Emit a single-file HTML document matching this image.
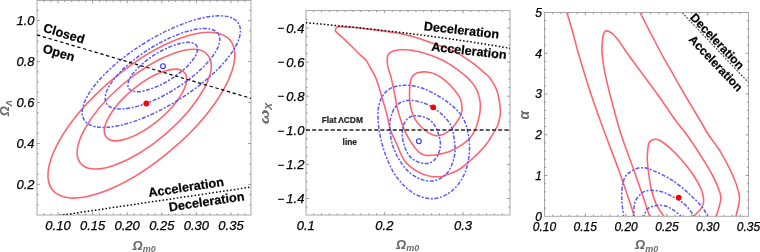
<!DOCTYPE html>
<html><head><meta charset="utf-8"><style>
html,body{margin:0;padding:0;background:#fff;width:760px;height:252px;overflow:hidden}
svg{display:block;filter:blur(0.3px)}
text{font-family:"Liberation Sans", sans-serif}
</style></head><body>
<svg width="760" height="252" viewBox="0 0 760 252">
<rect width="760" height="252" fill="#fff"/>
<rect x="37" y="0.5" width="214" height="214.5" fill="none" stroke="#a8a8a8" stroke-width="1"/>
<path d="M44.2,215v-1.6M44.2,0.5v1.6M51.1,215v-1.6M51.1,0.5v1.6M58,215v-2.8M58,0.5v2.8M64.9,215v-1.6M64.9,0.5v1.6M71.8,215v-1.6M71.8,0.5v1.6M78.8,215v-1.6M78.8,0.5v1.6M85.7,215v-1.6M85.7,0.5v1.6M92.6,215v-2.8M92.6,0.5v2.8M99.5,215v-1.6M99.5,0.5v1.6M106.4,215v-1.6M106.4,0.5v1.6M113.4,215v-1.6M113.4,0.5v1.6M120.3,215v-1.6M120.3,0.5v1.6M127.2,215v-2.8M127.2,0.5v2.8M134.1,215v-1.6M134.1,0.5v1.6M141,215v-1.6M141,0.5v1.6M148,215v-1.6M148,0.5v1.6M154.9,215v-1.6M154.9,0.5v1.6M161.8,215v-2.8M161.8,0.5v2.8M168.7,215v-1.6M168.7,0.5v1.6M175.6,215v-1.6M175.6,0.5v1.6M182.6,215v-1.6M182.6,0.5v1.6M189.5,215v-1.6M189.5,0.5v1.6M196.4,215v-2.8M196.4,0.5v2.8M203.3,215v-1.6M203.3,0.5v1.6M210.2,215v-1.6M210.2,0.5v1.6M217.2,215v-1.6M217.2,0.5v1.6M224.1,215v-1.6M224.1,0.5v1.6M231,215v-2.8M231,0.5v2.8M237.9,215v-1.6M237.9,0.5v1.6M244.8,215v-1.6M244.8,0.5v1.6M37,204.9h1.6M251,204.9h-1.6M37,194.7h1.6M251,194.7h-1.6M37,184.4h2.8M251,184.4h-2.8M37,174.2h1.6M251,174.2h-1.6M37,164h1.6M251,164h-1.6M37,153.7h1.6M251,153.7h-1.6M37,143.5h2.8M251,143.5h-2.8M37,133.2h1.6M251,133.2h-1.6M37,123h1.6M251,123h-1.6M37,112.8h1.6M251,112.8h-1.6M37,102.5h2.8M251,102.5h-2.8M37,92.3h1.6M251,92.3h-1.6M37,82h1.6M251,82h-1.6M37,71.8h1.6M251,71.8h-1.6M37,61.6h2.8M251,61.6h-2.8M37,51.3h1.6M251,51.3h-1.6M37,41.1h1.6M251,41.1h-1.6M37,30.8h1.6M251,30.8h-1.6M37,20.6h2.8M251,20.6h-2.8M37,10.4h1.6M251,10.4h-1.6" stroke="#8c8c8c" stroke-width="0.9" fill="none"/>
<text x="58" y="229.5" font-size="13" text-anchor="middle" font-style="italic" fill="#000" stroke="#000" stroke-width="0.25">0.10</text>
<text x="92.6" y="229.5" font-size="13" text-anchor="middle" font-style="italic" fill="#000" stroke="#000" stroke-width="0.25">0.15</text>
<text x="127.2" y="229.5" font-size="13" text-anchor="middle" font-style="italic" fill="#000" stroke="#000" stroke-width="0.25">0.20</text>
<text x="161.8" y="229.5" font-size="13" text-anchor="middle" font-style="italic" fill="#000" stroke="#000" stroke-width="0.25">0.25</text>
<text x="196.4" y="229.5" font-size="13" text-anchor="middle" font-style="italic" fill="#000" stroke="#000" stroke-width="0.25">0.30</text>
<text x="231" y="229.5" font-size="13" text-anchor="middle" font-style="italic" fill="#000" stroke="#000" stroke-width="0.25">0.35</text>
<text x="34.5" y="25.3" font-size="13" text-anchor="end" font-style="italic" fill="#000" stroke="#000" stroke-width="0.25">1.0</text>
<text x="34.5" y="66.3" font-size="13" text-anchor="end" font-style="italic" fill="#000" stroke="#000" stroke-width="0.25">0.8</text>
<text x="34.5" y="107.2" font-size="13" text-anchor="end" font-style="italic" fill="#000" stroke="#000" stroke-width="0.25">0.6</text>
<text x="34.5" y="148.2" font-size="13" text-anchor="end" font-style="italic" fill="#000" stroke="#000" stroke-width="0.25">0.4</text>
<text x="34.5" y="189.1" font-size="13" text-anchor="end" font-style="italic" fill="#000" stroke="#000" stroke-width="0.25">0.2</text>
<rect x="306" y="10.5" width="204" height="204.5" fill="none" stroke="#a8a8a8" stroke-width="1"/>
<path d="M313.7,215v-1.6M313.7,10.5v1.6M321.5,215v-1.6M321.5,10.5v1.6M329.4,215v-1.6M329.4,10.5v1.6M337.2,215v-1.6M337.2,10.5v1.6M345.1,215v-1.6M345.1,10.5v1.6M353,215v-1.6M353,10.5v1.6M360.8,215v-1.6M360.8,10.5v1.6M368.7,215v-1.6M368.7,10.5v1.6M376.5,215v-1.6M376.5,10.5v1.6M384.4,215v-2.8M384.4,10.5v2.8M392.3,215v-1.6M392.3,10.5v1.6M400.1,215v-1.6M400.1,10.5v1.6M408,215v-1.6M408,10.5v1.6M415.8,215v-1.6M415.8,10.5v1.6M423.7,215v-1.6M423.7,10.5v1.6M431.6,215v-1.6M431.6,10.5v1.6M439.4,215v-1.6M439.4,10.5v1.6M447.3,215v-1.6M447.3,10.5v1.6M455.1,215v-1.6M455.1,10.5v1.6M463,215v-2.8M463,10.5v2.8M470.9,215v-1.6M470.9,10.5v1.6M478.7,215v-1.6M478.7,10.5v1.6M486.6,215v-1.6M486.6,10.5v1.6M494.4,215v-1.6M494.4,10.5v1.6M502.3,215v-1.6M502.3,10.5v1.6M306,207h1.6M510,207h-1.6M306,198.5h2.8M510,198.5h-2.8M306,190h1.6M510,190h-1.6M306,181.4h1.6M510,181.4h-1.6M306,172.9h1.6M510,172.9h-1.6M306,164.4h2.8M510,164.4h-2.8M306,155.9h1.6M510,155.9h-1.6M306,147.3h1.6M510,147.3h-1.6M306,138.8h1.6M510,138.8h-1.6M306,130.3h2.8M510,130.3h-2.8M306,121.8h1.6M510,121.8h-1.6M306,113.2h1.6M510,113.2h-1.6M306,104.7h1.6M510,104.7h-1.6M306,96.2h2.8M510,96.2h-2.8M306,87.6h1.6M510,87.6h-1.6M306,79.1h1.6M510,79.1h-1.6M306,70.6h1.6M510,70.6h-1.6M306,62.1h2.8M510,62.1h-2.8M306,53.5h1.6M510,53.5h-1.6M306,45h1.6M510,45h-1.6M306,36.5h1.6M510,36.5h-1.6M306,27.9h2.8M510,27.9h-2.8M306,19.4h1.6M510,19.4h-1.6" stroke="#8c8c8c" stroke-width="0.9" fill="none"/>
<text x="305.8" y="229.5" font-size="13" text-anchor="middle" font-style="italic" fill="#000" stroke="#000" stroke-width="0.25">0.1</text>
<text x="384.4" y="229.5" font-size="13" text-anchor="middle" font-style="italic" fill="#000" stroke="#000" stroke-width="0.25">0.2</text>
<text x="463" y="229.5" font-size="13" text-anchor="middle" font-style="italic" fill="#000" stroke="#000" stroke-width="0.25">0.3</text>
<text x="304.4" y="32.6" font-size="13" text-anchor="end" font-style="italic" fill="#000" stroke="#000" stroke-width="0.25"><tspan font-size="11.5" dy="-0.5">−</tspan><tspan dx="2.4" dy="0.5">0.4</tspan></text>
<text x="304.4" y="66.8" font-size="13" text-anchor="end" font-style="italic" fill="#000" stroke="#000" stroke-width="0.25"><tspan font-size="11.5" dy="-0.5">−</tspan><tspan dx="2.4" dy="0.5">0.6</tspan></text>
<text x="304.4" y="100.9" font-size="13" text-anchor="end" font-style="italic" fill="#000" stroke="#000" stroke-width="0.25"><tspan font-size="11.5" dy="-0.5">−</tspan><tspan dx="2.4" dy="0.5">0.8</tspan></text>
<text x="304.4" y="135" font-size="13" text-anchor="end" font-style="italic" fill="#000" stroke="#000" stroke-width="0.25"><tspan font-size="11.5" dy="-0.5">−</tspan><tspan dx="2.4" dy="0.5">1.0</tspan></text>
<text x="304.4" y="169.1" font-size="13" text-anchor="end" font-style="italic" fill="#000" stroke="#000" stroke-width="0.25"><tspan font-size="11.5" dy="-0.5">−</tspan><tspan dx="2.4" dy="0.5">1.2</tspan></text>
<text x="304.4" y="203.2" font-size="13" text-anchor="end" font-style="italic" fill="#000" stroke="#000" stroke-width="0.25"><tspan font-size="11.5" dy="-0.5">−</tspan><tspan dx="2.4" dy="0.5">1.4</tspan></text>
<rect x="544.5" y="12.5" width="204" height="203.8" fill="none" stroke="#a8a8a8" stroke-width="1"/>
<path d="M552.7,216.3v-1.6M552.7,12.5v1.6M560.8,216.3v-1.6M560.8,12.5v1.6M569,216.3v-1.6M569,12.5v1.6M577.1,216.3v-1.6M577.1,12.5v1.6M585.3,216.3v-2.8M585.3,12.5v2.8M593.5,216.3v-1.6M593.5,12.5v1.6M601.6,216.3v-1.6M601.6,12.5v1.6M609.8,216.3v-1.6M609.8,12.5v1.6M617.9,216.3v-1.6M617.9,12.5v1.6M626.1,216.3v-2.8M626.1,12.5v2.8M634.3,216.3v-1.6M634.3,12.5v1.6M642.4,216.3v-1.6M642.4,12.5v1.6M650.6,216.3v-1.6M650.6,12.5v1.6M658.7,216.3v-1.6M658.7,12.5v1.6M666.9,216.3v-2.8M666.9,12.5v2.8M675.1,216.3v-1.6M675.1,12.5v1.6M683.2,216.3v-1.6M683.2,12.5v1.6M691.4,216.3v-1.6M691.4,12.5v1.6M699.5,216.3v-1.6M699.5,12.5v1.6M707.7,216.3v-2.8M707.7,12.5v2.8M715.9,216.3v-1.6M715.9,12.5v1.6M724,216.3v-1.6M724,12.5v1.6M732.2,216.3v-1.6M732.2,12.5v1.6M740.3,216.3v-1.6M740.3,12.5v1.6M544.5,208.1h1.6M748.5,208.1h-1.6M544.5,200h1.6M748.5,200h-1.6M544.5,191.8h1.6M748.5,191.8h-1.6M544.5,183.7h1.6M748.5,183.7h-1.6M544.5,175.5h2.8M748.5,175.5h-2.8M544.5,167.4h1.6M748.5,167.4h-1.6M544.5,159.2h1.6M748.5,159.2h-1.6M544.5,151.1h1.6M748.5,151.1h-1.6M544.5,142.9h1.6M748.5,142.9h-1.6M544.5,134.8h2.8M748.5,134.8h-2.8M544.5,126.6h1.6M748.5,126.6h-1.6M544.5,118.5h1.6M748.5,118.5h-1.6M544.5,110.3h1.6M748.5,110.3h-1.6M544.5,102.2h1.6M748.5,102.2h-1.6M544.5,94h2.8M748.5,94h-2.8M544.5,85.9h1.6M748.5,85.9h-1.6M544.5,77.7h1.6M748.5,77.7h-1.6M544.5,69.6h1.6M748.5,69.6h-1.6M544.5,61.4h1.6M748.5,61.4h-1.6M544.5,53.3h2.8M748.5,53.3h-2.8M544.5,45.1h1.6M748.5,45.1h-1.6M544.5,37h1.6M748.5,37h-1.6M544.5,28.8h1.6M748.5,28.8h-1.6M544.5,20.7h1.6M748.5,20.7h-1.6" stroke="#8c8c8c" stroke-width="0.9" fill="none"/>
<text x="544.5" y="230.8" font-size="12" text-anchor="middle" font-style="italic" fill="#000" stroke="#000" stroke-width="0.25">0.10</text>
<text x="585.3" y="230.8" font-size="12" text-anchor="middle" font-style="italic" fill="#000" stroke="#000" stroke-width="0.25">0.15</text>
<text x="626.1" y="230.8" font-size="12" text-anchor="middle" font-style="italic" fill="#000" stroke="#000" stroke-width="0.25">0.20</text>
<text x="666.9" y="230.8" font-size="12" text-anchor="middle" font-style="italic" fill="#000" stroke="#000" stroke-width="0.25">0.25</text>
<text x="707.7" y="230.8" font-size="12" text-anchor="middle" font-style="italic" fill="#000" stroke="#000" stroke-width="0.25">0.30</text>
<text x="748.5" y="230.8" font-size="12" text-anchor="middle" font-style="italic" fill="#000" stroke="#000" stroke-width="0.25">0.35</text>
<text x="542" y="220.6" font-size="12" text-anchor="end" font-style="italic" fill="#000" stroke="#000" stroke-width="0.25">0</text>
<text x="542" y="179.8" font-size="12" text-anchor="end" font-style="italic" fill="#000" stroke="#000" stroke-width="0.25">1</text>
<text x="542" y="139.1" font-size="12" text-anchor="end" font-style="italic" fill="#000" stroke="#000" stroke-width="0.25">2</text>
<text x="542" y="98.3" font-size="12" text-anchor="end" font-style="italic" fill="#000" stroke="#000" stroke-width="0.25">3</text>
<text x="542" y="57.6" font-size="12" text-anchor="end" font-style="italic" fill="#000" stroke="#000" stroke-width="0.25">4</text>
<text x="542" y="16.8" font-size="12" text-anchor="end" font-style="italic" fill="#000" stroke="#000" stroke-width="0.25">5</text>
<defs><clipPath id="c1"><rect x="37" y="0.5" width="214" height="214.5"/></clipPath><clipPath id="c2"><rect x="306" y="10.5" width="204" height="204.5"/></clipPath><clipPath id="c3"><rect x="544.5" y="13" width="204" height="203"/></clipPath></defs>
<ellipse cx="145.5" cy="105.0" rx="20.0" ry="50.7" transform="rotate(-129.6 145.5 105.0)" fill="none" stroke="#ff6470" stroke-width="1.6"/>
<ellipse cx="144.2" cy="109.2" rx="83.5" ry="32.8" transform="rotate(-40.5 144.2 109.2)" fill="none" stroke="#ff6470" stroke-width="1.6"/>
<ellipse cx="141.4" cy="115.2" rx="116.2" ry="45.9" transform="rotate(-40.3 141.4 115.2)" fill="none" stroke="#ff6470" stroke-width="1.6"/>
<ellipse cx="162.7" cy="67.0" rx="40.1" ry="14.6" transform="rotate(-32.1 162.7 67.0)" fill="none" stroke="#5858ff" stroke-width="1.5" stroke-dasharray="2 1.6 4 1.6"/>
<ellipse cx="162.5" cy="68.8" rx="65.9" ry="23.8" transform="rotate(-31.9 162.5 68.8)" fill="none" stroke="#5858ff" stroke-width="1.5" stroke-dasharray="2 1.6 4 1.6"/>
<ellipse cx="161.3" cy="71.6" rx="33.1" ry="91.0" transform="rotate(-122.0 161.3 71.6)" fill="none" stroke="#5858ff" stroke-width="1.5" stroke-dasharray="2 1.6 4 1.6"/>
<line x1="37" y1="34.9" x2="251" y2="98.3" stroke="#000" stroke-width="1.2" stroke-dasharray="3.4 2.6"/>
<line x1="45" y1="217.6" x2="251" y2="187.1" stroke="#000" stroke-width="1.5" stroke-dasharray="1.5 2.1" clip-path="url(#c1)"/>
<circle cx="146.3" cy="103.5" r="2.9" fill="#f00"/>
<circle cx="163" cy="66.2" r="2.4" fill="none" stroke="#3333ff" stroke-width="1.1"/>
<text x="42.5" y="31.6" font-size="12.7" text-anchor="start" font-weight="bold" fill="#000" stroke="#000" stroke-width="0.2" transform="rotate(16.5 42.5 31.6)">Closed</text>
<text x="42" y="52.2" font-size="12.7" text-anchor="start" font-weight="bold" fill="#000" stroke="#000" stroke-width="0.2" transform="rotate(16.5 42 52.2)">Open</text>
<text x="149" y="197.1" font-size="12.7" text-anchor="start" font-weight="bold" fill="#000" stroke="#000" stroke-width="0.2" transform="rotate(-8.5 149 197.1)">Acceleration</text>
<text x="169.5" y="211.5" font-size="12.7" text-anchor="start" font-weight="bold" fill="#000" stroke="#000" stroke-width="0.2" transform="rotate(-8.5 169.5 211.5)">Deceleration</text>
<path d="M423.8,71.9 L424.7,71.9 L425.6,71.9 L426.5,72.0 L427.4,72.1 L428.4,72.2 L429.3,72.3 L430.1,72.5 L431.0,72.7 L431.9,73.0 L432.8,73.2 L433.6,73.6 L434.5,73.9 L435.3,74.3 L436.2,74.6 L437.0,75.1 L437.8,75.5 L438.6,75.9 L439.4,76.4 L440.1,76.9 L440.9,77.4 L441.7,77.9 L442.4,78.4 L443.1,79.0 L443.9,79.5 L444.6,80.1 L445.3,80.7 L446.0,81.3 L446.7,81.9 L447.4,82.5 L448.0,83.1 L448.7,83.7 L449.4,84.4 L450.0,85.0 L450.7,85.7 L451.3,86.3 L451.9,87.0 L452.5,87.7 L453.1,88.4 L453.7,89.1 L454.3,89.8 L454.9,90.5 L455.4,91.2 L456.0,92.0 L456.5,92.7 L457.1,93.4 L457.6,94.2 L458.1,94.9 L458.6,95.7 L459.1,96.5 L459.6,97.2 L460.0,98.0 L460.4,98.9 L460.7,99.7 L461.0,100.6 L461.2,101.5 L461.4,102.3 L461.6,103.2 L461.7,104.1 L461.8,105.1 L461.9,106.0 L461.9,106.9 L462.0,107.8 L462.0,108.7 L462.0,109.6 L461.9,110.5 L461.8,111.4 L461.6,112.3 L461.4,113.2 L461.2,114.1 L460.8,114.9 L460.5,115.7 L460.1,116.6 L459.7,117.4 L459.2,118.2 L458.7,118.9 L458.2,119.7 L457.7,120.5 L457.2,121.2 L456.7,122.0 L456.2,122.8 L455.7,123.5 L455.2,124.3 L454.7,125.0 L454.1,125.8 L453.6,126.5 L453.0,127.2 L452.4,127.9 L451.8,128.5 L451.1,129.2 L450.4,129.8 L449.7,130.3 L449.0,130.9 L448.2,131.4 L447.5,132.0 L446.7,132.5 L445.9,132.9 L445.1,133.4 L444.3,133.8 L443.5,134.2 L442.7,134.5 L441.8,134.8 L440.9,135.1 L440.1,135.4 L439.2,135.5 L438.3,135.7 L437.4,135.7 L436.5,135.7 L435.6,135.6 L434.7,135.4 L433.9,135.2 L433.0,134.9 L432.2,134.6 L431.4,134.2 L430.6,133.8 L429.8,133.3 L429.0,132.9 L428.2,132.4 L427.4,131.9 L426.7,131.3 L426.0,130.8 L425.2,130.2 L424.5,129.7 L423.8,129.1 L423.1,128.5 L422.4,127.9 L421.7,127.3 L421.1,126.6 L420.4,126.0 L419.8,125.3 L419.2,124.7 L418.6,124.0 L418.0,123.3 L417.4,122.6 L416.9,121.8 L416.3,121.1 L415.8,120.3 L415.4,119.5 L414.9,118.8 L414.5,118.0 L414.1,117.1 L413.7,116.3 L413.3,115.5 L413.0,114.6 L412.7,113.8 L412.3,112.9 L412.0,112.0 L411.8,111.2 L411.5,110.3 L411.2,109.4 L411.0,108.5 L410.8,107.6 L410.6,106.7 L410.4,105.8 L410.3,104.9 L410.1,104.0 L410.0,103.1 L409.9,102.2 L409.8,101.3 L409.8,100.4 L409.7,99.5 L409.6,98.6 L409.6,97.6 L409.6,96.7 L409.5,95.8 L409.5,94.9 L409.5,94.0 L409.5,93.1 L409.5,92.2 L409.6,91.2 L409.6,90.3 L409.6,89.4 L409.7,88.5 L409.8,87.6 L409.8,86.7 L409.9,85.7 L410.0,84.8 L410.1,83.9 L410.2,83.0 L410.3,82.1 L410.5,81.2 L410.7,80.3 L411.0,79.5 L411.3,78.6 L411.6,77.8 L412.0,77.0 L412.5,76.2 L413.0,75.5 L413.6,74.9 L414.3,74.4 L415.1,73.9 L415.8,73.5 L416.7,73.1 L417.5,72.8 L418.4,72.6 L419.3,72.4 L420.2,72.2 L421.1,72.1 L422.0,72.0 L422.9,71.9Z" fill="none" stroke="#ff6470" stroke-width="1.6" stroke-linejoin="round"/>
<path d="M389.4,53.1 L390.6,52.3 L392.0,51.7 L393.4,51.1 L394.9,50.7 L396.5,50.3 L398.0,50.0 L399.6,49.8 L401.2,49.7 L402.7,49.6 L404.3,49.7 L405.9,49.7 L407.5,49.8 L409.0,50.0 L410.6,50.2 L412.2,50.4 L413.7,50.7 L415.3,51.0 L416.8,51.3 L418.4,51.6 L419.9,52.0 L421.4,52.4 L423.0,52.8 L424.5,53.3 L426.0,53.7 L427.5,54.2 L429.0,54.7 L430.5,55.3 L432.0,55.8 L433.5,56.3 L434.9,56.9 L436.4,57.5 L437.9,58.1 L439.3,58.7 L440.8,59.4 L442.2,60.0 L443.6,60.7 L445.0,61.5 L446.4,62.3 L447.7,63.1 L449.1,63.9 L450.4,64.8 L451.7,65.6 L453.0,66.5 L454.3,67.4 L455.6,68.3 L456.9,69.2 L458.2,70.2 L459.5,71.1 L460.7,72.1 L462.0,73.0 L463.2,74.0 L464.4,75.0 L465.6,76.1 L466.8,77.1 L467.9,78.2 L469.0,79.4 L470.1,80.5 L471.1,81.7 L472.2,82.9 L473.2,84.1 L474.1,85.4 L475.0,86.7 L475.8,88.1 L476.5,89.5 L477.1,90.9 L477.7,92.4 L478.2,93.9 L478.7,95.4 L479.1,96.9 L479.5,98.4 L479.8,100.0 L480.0,101.5 L480.2,103.1 L480.3,104.7 L480.4,106.2 L480.3,107.8 L480.2,109.4 L480.1,111.0 L479.9,112.5 L479.6,114.1 L479.3,115.6 L479.0,117.2 L478.6,118.7 L478.3,120.3 L477.9,121.8 L477.5,123.3 L477.0,124.8 L476.5,126.3 L475.9,127.8 L475.3,129.2 L474.6,130.7 L473.9,132.1 L473.1,133.5 L472.3,134.8 L471.4,136.1 L470.5,137.4 L469.5,138.5 L468.4,139.7 L467.2,140.7 L466.0,141.8 L464.7,142.7 L463.5,143.7 L462.2,144.6 L460.9,145.4 L459.5,146.3 L458.2,147.1 L456.8,147.9 L455.4,148.7 L454.0,149.4 L452.6,150.1 L451.2,150.7 L449.7,151.3 L448.2,151.9 L446.7,152.3 L445.2,152.8 L443.7,153.2 L442.1,153.6 L440.6,153.9 L439.0,154.2 L437.5,154.5 L435.9,154.7 L434.4,155.0 L432.8,155.2 L431.2,155.3 L429.6,155.4 L428.1,155.5 L426.5,155.4 L425.0,155.1 L423.5,154.7 L422.0,154.1 L420.7,153.3 L419.4,152.4 L418.2,151.4 L417.1,150.3 L416.1,149.1 L415.1,147.9 L414.1,146.6 L413.2,145.3 L412.3,144.0 L411.5,142.7 L410.6,141.4 L409.8,140.1 L408.9,138.7 L408.1,137.4 L407.3,136.0 L406.6,134.6 L405.9,133.2 L405.2,131.7 L404.6,130.3 L404.0,128.8 L403.4,127.4 L402.9,125.9 L402.3,124.4 L401.8,122.9 L401.3,121.4 L400.8,119.9 L400.3,118.4 L399.8,116.9 L399.3,115.4 L398.9,113.9 L398.4,112.4 L398.0,110.9 L397.5,109.3 L397.1,107.8 L396.8,106.3 L396.5,104.7 L396.2,103.2 L396.0,101.6 L395.8,100.0 L395.5,98.5 L395.2,96.9 L394.9,95.4 L394.6,93.8 L394.3,92.3 L394.0,90.7 L393.7,89.2 L393.4,87.6 L393.0,86.1 L392.7,84.5 L392.4,83.0 L392.0,81.4 L391.7,79.9 L391.3,78.4 L390.9,76.8 L390.5,75.3 L390.0,73.8 L389.5,72.3 L389.1,70.8 L388.6,69.3 L388.2,67.8 L387.8,66.2 L387.5,64.7 L387.3,63.1 L387.2,61.6 L387.2,60.0 L387.3,58.4 L387.4,56.9 L387.8,55.4 L388.4,54.2Z" fill="none" stroke="#ff6470" stroke-width="1.6" stroke-linejoin="round"/>
<path d="M335.3,30.9 L335.8,28.5 L337.3,26.6 L339.7,26.6 L342.2,26.8 L344.6,26.9 L347.1,27.0 L349.5,27.2 L352.0,27.3 L354.4,27.5 L356.9,27.7 L359.3,28.0 L361.7,28.2 L364.2,28.5 L366.6,28.8 L369.0,29.1 L371.5,29.5 L373.9,29.8 L376.4,30.1 L378.8,30.4 L381.2,30.8 L383.6,31.1 L386.1,31.5 L388.5,31.8 L390.9,32.1 L393.4,32.4 L395.8,32.8 L398.2,33.2 L400.6,33.6 L403.0,34.1 L405.4,34.7 L407.8,35.3 L410.2,35.9 L412.6,36.5 L414.9,37.2 L417.3,37.9 L419.6,38.6 L421.9,39.4 L424.2,40.3 L426.6,41.1 L428.9,41.9 L431.2,42.8 L433.5,43.6 L435.8,44.4 L438.1,45.2 L440.4,46.0 L442.8,46.8 L445.1,47.6 L447.4,48.5 L449.7,49.4 L451.9,50.3 L454.2,51.3 L456.3,52.4 L458.5,53.7 L460.6,54.9 L462.6,56.2 L464.7,57.6 L466.8,58.9 L468.8,60.3 L470.8,61.7 L472.8,63.1 L474.8,64.6 L476.7,66.1 L478.6,67.7 L480.4,69.3 L482.3,70.9 L484.1,72.6 L485.9,74.2 L487.9,75.7 L489.5,77.5 L490.9,79.5 L492.3,81.6 L493.6,83.6 L494.8,85.8 L495.8,88.0 L496.7,90.3 L497.5,92.6 L498.1,95.0 L498.6,97.4 L499.0,99.8 L499.5,102.2 L499.8,104.7 L500.1,107.1 L500.2,109.6 L500.4,112.0 L500.3,114.4 L499.9,116.9 L499.3,119.3 L498.8,121.6 L498.1,124.0 L497.2,126.3 L496.1,128.5 L494.9,130.6 L493.6,132.7 L492.4,134.8 L491.1,136.9 L489.8,139.0 L488.5,141.1 L487.1,143.1 L485.6,145.0 L484.0,146.9 L482.4,148.8 L480.7,150.6 L479.1,152.4 L477.3,154.1 L475.6,155.9 L473.8,157.5 L471.9,159.1 L470.0,160.6 L468.1,162.2 L466.3,163.9 L464.5,165.5 L462.6,167.0 L460.6,168.5 L458.5,169.8 L456.4,171.0 L454.1,172.0 L451.9,172.9 L449.6,173.8 L447.3,174.6 L444.9,175.5 L442.7,176.4 L440.3,176.7 L437.8,176.7 L435.4,176.7 L432.9,176.6 L430.5,176.3 L428.1,175.7 L425.7,175.0 L423.4,174.2 L421.1,173.3 L418.9,172.2 L416.8,171.1 L414.7,169.8 L412.6,168.4 L410.7,166.9 L408.8,165.4 L407.0,163.6 L405.4,161.8 L404.0,159.8 L402.7,157.7 L401.6,155.5 L400.6,153.3 L399.6,151.0 L398.7,148.8 L397.7,146.5 L396.8,144.2 L395.8,142.0 L394.8,139.7 L393.7,137.5 L392.7,135.3 L391.6,133.1 L390.8,130.8 L390.0,128.5 L389.4,126.1 L388.9,123.7 L388.4,121.3 L387.9,118.9 L387.4,116.5 L386.8,114.1 L386.1,111.7 L385.5,109.4 L384.8,107.0 L384.1,104.7 L383.4,102.3 L382.7,100.0 L382.0,97.6 L381.3,95.2 L380.7,92.9 L380.0,90.5 L379.3,88.2 L378.6,85.8 L377.8,83.5 L377.0,81.2 L376.1,78.9 L375.2,76.6 L374.1,74.4 L372.9,72.2 L371.7,70.1 L370.5,68.0 L369.4,65.8 L368.2,63.7 L366.9,61.6 L365.4,59.6 L363.6,57.9 L361.8,56.3 L359.9,54.7 L358.2,53.0 L356.4,51.3 L354.7,49.5 L353.0,47.8 L351.3,46.0 L349.5,44.3 L347.8,42.6 L346.0,40.9 L344.2,39.2 L342.4,37.5 L340.6,35.9 L338.7,34.3 L336.9,32.6Z" fill="none" stroke="#ff6470" stroke-width="1.6" stroke-linejoin="round"/>
<path d="M402.7,128.7 L402.9,128.0 L403.0,127.3 L403.2,126.7 L403.4,126.0 L403.6,125.3 L403.8,124.7 L404.1,124.1 L404.3,123.4 L404.6,122.8 L404.9,122.2 L405.3,121.6 L405.6,121.1 L406.0,120.5 L406.4,120.0 L406.8,119.5 L407.3,119.0 L407.8,118.5 L408.3,118.1 L408.8,117.7 L409.3,117.3 L409.9,117.0 L410.5,116.7 L411.1,116.5 L411.7,116.3 L412.3,116.1 L413.0,116.0 L413.6,115.9 L414.3,115.8 L415.0,115.8 L415.6,115.8 L416.3,115.8 L417.0,115.8 L417.7,115.9 L418.4,115.9 L419.0,116.0 L419.7,116.1 L420.4,116.2 L421.1,116.4 L421.8,116.5 L422.4,116.7 L423.1,116.8 L423.8,117.0 L424.4,117.2 L425.1,117.5 L425.7,117.7 L426.3,118.0 L427.0,118.3 L427.6,118.6 L428.2,118.9 L428.7,119.2 L429.3,119.6 L429.9,120.0 L430.4,120.4 L430.9,120.9 L431.4,121.3 L431.9,121.8 L432.4,122.3 L432.8,122.8 L433.2,123.3 L433.7,123.9 L434.1,124.4 L434.5,125.0 L434.8,125.6 L435.2,126.2 L435.5,126.8 L435.8,127.4 L436.1,128.0 L436.4,128.6 L436.7,129.3 L437.0,129.9 L437.2,130.5 L437.5,131.2 L437.7,131.8 L438.0,132.5 L438.2,133.2 L438.4,133.8 L438.6,134.5 L438.8,135.1 L439.0,135.8 L439.2,136.5 L439.4,137.1 L439.5,137.8 L439.7,138.5 L439.8,139.1 L440.0,139.8 L440.1,140.5 L440.2,141.2 L440.3,141.9 L440.3,142.5 L440.4,143.2 L440.4,143.9 L440.4,144.6 L440.3,145.3 L440.3,146.0 L440.2,146.7 L440.2,147.3 L440.1,148.0 L439.9,148.7 L439.8,149.4 L439.7,150.0 L439.5,150.7 L439.3,151.4 L439.1,152.0 L438.9,152.7 L438.6,153.3 L438.4,153.9 L438.1,154.6 L437.8,155.2 L437.4,155.8 L437.1,156.4 L436.7,157.0 L436.4,157.5 L436.0,158.1 L435.6,158.6 L435.1,159.1 L434.7,159.6 L434.2,160.1 L433.7,160.6 L433.2,161.0 L432.7,161.4 L432.1,161.8 L431.5,162.1 L431.0,162.5 L430.4,162.7 L429.8,163.0 L429.1,163.2 L428.5,163.4 L427.9,163.5 L427.2,163.6 L426.6,163.6 L425.9,163.7 L425.2,163.6 L424.6,163.6 L423.9,163.5 L423.2,163.4 L422.6,163.3 L421.9,163.1 L421.2,163.0 L420.6,162.8 L419.9,162.6 L419.2,162.4 L418.6,162.2 L417.9,161.9 L417.3,161.6 L416.7,161.4 L416.1,161.1 L415.5,160.8 L414.9,160.4 L414.3,160.1 L413.7,159.7 L413.1,159.3 L412.6,158.9 L412.1,158.5 L411.5,158.1 L411.0,157.6 L410.6,157.1 L410.1,156.6 L409.7,156.1 L409.2,155.5 L408.8,155.0 L408.4,154.4 L408.1,153.9 L407.7,153.3 L407.3,152.7 L407.0,152.1 L406.7,151.5 L406.4,150.9 L406.1,150.2 L405.8,149.6 L405.5,149.0 L405.2,148.3 L405.0,147.7 L404.7,147.0 L404.5,146.4 L404.3,145.7 L404.1,145.1 L403.9,144.4 L403.7,143.7 L403.5,143.1 L403.3,142.4 L403.2,141.7 L403.0,141.0 L402.9,140.4 L402.8,139.7 L402.7,139.0 L402.6,138.3 L402.5,137.6 L402.5,136.9 L402.4,136.2 L402.4,135.5 L402.3,134.8 L402.3,134.2 L402.3,133.5 L402.3,132.8 L402.4,132.1 L402.4,131.4 L402.5,130.7 L402.5,130.0 L402.6,129.3Z" fill="none" stroke="#5858ff" stroke-width="1.5" stroke-dasharray="2 1.6 4 1.6" stroke-linejoin="round"/>
<path d="M395.3,106.9 L396.0,106.1 L396.7,105.3 L397.6,104.5 L398.5,103.8 L399.4,103.1 L400.4,102.5 L401.4,102.0 L402.4,101.5 L403.5,101.2 L404.5,100.9 L405.7,100.6 L406.8,100.5 L407.9,100.4 L409.1,100.3 L410.2,100.3 L411.4,100.4 L412.5,100.5 L413.6,100.6 L414.8,100.8 L415.9,101.0 L417.1,101.3 L418.2,101.5 L419.3,101.8 L420.5,102.1 L421.6,102.4 L422.7,102.7 L423.8,103.1 L424.9,103.5 L426.0,103.9 L427.0,104.3 L428.1,104.8 L429.1,105.3 L430.2,105.8 L431.2,106.3 L432.2,106.9 L433.2,107.6 L434.1,108.2 L435.1,108.9 L436.0,109.6 L436.9,110.3 L437.8,111.0 L438.8,111.7 L439.7,112.4 L440.6,113.2 L441.4,113.9 L442.3,114.7 L443.2,115.5 L444.0,116.3 L444.8,117.1 L445.6,117.9 L446.4,118.8 L447.1,119.7 L447.8,120.6 L448.5,121.5 L449.2,122.5 L449.8,123.4 L450.3,124.4 L450.9,125.5 L451.3,126.5 L451.8,127.6 L452.2,128.7 L452.5,129.8 L452.8,130.9 L453.1,132.0 L453.3,133.1 L453.5,134.3 L453.7,135.4 L453.9,136.6 L454.0,137.7 L454.2,138.9 L454.3,140.0 L454.5,141.2 L454.6,142.3 L454.7,143.5 L454.8,144.7 L454.9,145.8 L455.0,147.0 L455.1,148.1 L455.1,149.3 L455.1,150.4 L455.0,151.6 L454.9,152.7 L454.8,153.9 L454.6,155.0 L454.4,156.2 L454.2,157.3 L453.9,158.4 L453.6,159.5 L453.3,160.7 L452.9,161.8 L452.5,162.9 L452.1,163.9 L451.7,165.0 L451.3,166.1 L450.8,167.1 L450.3,168.2 L449.7,169.2 L449.1,170.2 L448.5,171.1 L447.8,172.1 L447.1,173.0 L446.4,173.8 L445.6,174.7 L444.7,175.4 L443.8,176.2 L442.9,176.9 L442.0,177.5 L441.0,178.1 L440.0,178.7 L439.0,179.2 L437.9,179.6 L436.9,180.0 L435.8,180.4 L434.7,180.7 L433.5,180.9 L432.4,181.0 L431.3,181.1 L430.1,181.1 L429.0,181.1 L427.8,181.0 L426.7,180.9 L425.6,180.7 L424.5,180.4 L423.4,180.1 L422.3,179.7 L421.2,179.3 L420.1,178.9 L419.0,178.5 L418.0,178.0 L416.9,177.5 L415.9,176.9 L414.9,176.3 L413.9,175.7 L413.0,175.1 L412.0,174.5 L411.1,173.8 L410.2,173.0 L409.3,172.3 L408.4,171.5 L407.6,170.7 L406.8,169.9 L406.0,169.1 L405.2,168.2 L404.5,167.3 L403.7,166.4 L403.0,165.5 L402.3,164.6 L401.7,163.6 L401.0,162.6 L400.4,161.7 L399.8,160.7 L399.2,159.7 L398.6,158.7 L398.0,157.7 L397.5,156.6 L396.9,155.6 L396.4,154.6 L395.9,153.5 L395.5,152.5 L395.0,151.4 L394.5,150.3 L394.1,149.3 L393.7,148.2 L393.3,147.1 L392.9,146.0 L392.5,144.9 L392.2,143.8 L391.9,142.7 L391.6,141.5 L391.4,140.4 L391.1,139.3 L390.9,138.1 L390.8,137.0 L390.6,135.8 L390.4,134.7 L390.3,133.5 L390.2,132.4 L390.1,131.2 L390.0,130.0 L389.9,128.9 L389.8,127.7 L389.8,126.6 L389.8,125.4 L389.8,124.3 L389.9,123.1 L390.0,121.9 L390.1,120.8 L390.3,119.7 L390.5,118.5 L390.8,117.4 L391.0,116.3 L391.4,115.2 L391.7,114.1 L392.1,113.0 L392.5,111.9 L393.0,110.9 L393.5,109.8 L394.0,108.8 L394.6,107.9Z" fill="none" stroke="#5858ff" stroke-width="1.5" stroke-dasharray="2 1.6 4 1.6" stroke-linejoin="round"/>
<path d="M390.2,88.5 L391.6,87.8 L393.1,87.2 L394.6,86.7 L396.2,86.3 L397.8,86.0 L399.4,85.7 L401.0,85.5 L402.6,85.4 L404.2,85.3 L405.8,85.2 L407.5,85.2 L409.1,85.3 L410.7,85.5 L412.3,85.7 L413.9,86.0 L415.5,86.3 L417.1,86.6 L418.6,87.0 L420.2,87.5 L421.7,88.0 L423.3,88.5 L424.8,89.1 L426.3,89.7 L427.8,90.4 L429.2,91.0 L430.7,91.8 L432.1,92.5 L433.6,93.3 L435.0,94.0 L436.4,94.8 L437.8,95.6 L439.2,96.5 L440.6,97.3 L442.0,98.2 L443.3,99.1 L444.7,100.0 L446.0,100.9 L447.3,101.9 L448.6,102.9 L449.9,103.9 L451.2,104.9 L452.5,105.9 L453.7,107.0 L454.9,108.1 L456.0,109.2 L457.2,110.4 L458.2,111.6 L459.3,112.8 L460.3,114.1 L461.2,115.4 L462.1,116.7 L463.0,118.1 L463.8,119.5 L464.5,121.0 L465.1,122.5 L465.7,124.0 L466.2,125.5 L466.6,127.1 L467.0,128.6 L467.4,130.2 L467.7,131.8 L468.1,133.4 L468.4,135.0 L468.7,136.6 L468.9,138.2 L469.1,139.8 L469.3,141.4 L469.4,143.0 L469.5,144.7 L469.5,146.3 L469.5,147.9 L469.5,149.5 L469.4,151.1 L469.3,152.8 L469.2,154.4 L469.0,156.0 L468.8,157.6 L468.5,159.2 L468.2,160.8 L467.9,162.4 L467.6,164.0 L467.2,165.6 L466.8,167.1 L466.3,168.7 L465.8,170.2 L465.3,171.8 L464.7,173.3 L464.0,174.8 L463.3,176.2 L462.6,177.7 L461.8,179.1 L460.9,180.4 L460.0,181.8 L459.1,183.1 L458.1,184.4 L457.0,185.6 L456.0,186.8 L454.9,188.0 L453.7,189.2 L452.5,190.3 L451.3,191.3 L450.0,192.3 L448.7,193.2 L447.3,194.1 L445.9,194.9 L444.5,195.6 L443.0,196.3 L441.5,196.9 L440.0,197.4 L438.4,197.8 L436.8,198.2 L435.3,198.4 L433.7,198.6 L432.1,198.7 L430.4,198.7 L428.8,198.6 L427.2,198.3 L425.7,198.0 L424.1,197.7 L422.5,197.2 L421.0,196.7 L419.5,196.1 L418.0,195.5 L416.5,194.8 L415.1,194.1 L413.7,193.3 L412.3,192.4 L411.0,191.5 L409.7,190.5 L408.4,189.5 L407.1,188.5 L405.9,187.4 L404.7,186.3 L403.6,185.2 L402.5,184.0 L401.4,182.8 L400.3,181.6 L399.2,180.4 L398.2,179.1 L397.2,177.8 L396.2,176.5 L395.3,175.2 L394.4,173.8 L393.6,172.5 L392.8,171.1 L392.0,169.6 L391.2,168.2 L390.5,166.7 L389.8,165.3 L389.2,163.8 L388.5,162.3 L387.9,160.8 L387.3,159.3 L386.7,157.8 L386.1,156.3 L385.5,154.7 L385.0,153.2 L384.4,151.7 L383.9,150.1 L383.4,148.6 L382.9,147.0 L382.5,145.5 L382.1,143.9 L381.6,142.3 L381.3,140.7 L380.9,139.2 L380.5,137.6 L380.2,136.0 L379.9,134.4 L379.6,132.8 L379.3,131.2 L379.1,129.6 L378.9,128.0 L378.7,126.3 L378.5,124.7 L378.3,123.1 L378.2,121.5 L378.1,119.9 L378.0,118.2 L378.0,116.6 L377.9,115.0 L377.9,113.4 L378.0,111.8 L378.1,110.1 L378.3,108.5 L378.6,106.9 L378.9,105.4 L379.3,103.8 L379.8,102.2 L380.3,100.7 L380.9,99.2 L381.6,97.8 L382.4,96.4 L383.3,95.0 L384.3,93.8 L385.3,92.5 L386.4,91.4 L387.6,90.3 L388.9,89.4Z" fill="none" stroke="#5858ff" stroke-width="1.5" stroke-dasharray="2 1.6 4 1.6" stroke-linejoin="round"/>
<path d="M305.8,22.7 L310.9,23.2 L316,23.6 L321.1,24.1 L326.2,24.6 L331.3,25.1 L336.5,25.6 L341.6,26.1 L346.7,26.6 L351.8,27.1 L356.9,27.6 L362,28.1 L367.1,28.7 L372.2,29.2 L377.3,29.8 L382.4,30.4 L387.5,30.9 L392.7,31.5 L397.8,32.1 L402.9,32.7 L408,33.4 L413.1,34 L418.2,34.6 L423.3,35.3 L428.4,35.9 L433.5,36.6 L438.6,37.3 L443.7,38 L448.9,38.7 L454,39.4 L459.1,40.2 L464.2,40.9 L469.3,41.7 L474.4,42.5 L479.5,43.3 L484.6,44.1 L489.7,44.9 L494.8,45.7 L499.9,46.6 L505.1,47.5 L510.2,48.4" fill="none" stroke="#000" stroke-width="1.5" stroke-dasharray="1.5 2.1" clip-path="url(#c2)"/>
<line x1="306" y1="130" x2="510" y2="130" stroke="#222" stroke-width="1.3" stroke-dasharray="4 2.2"/>
<circle cx="433.2" cy="107.3" r="2.9" fill="#f00"/>
<circle cx="418.9" cy="141.2" r="2.4" fill="none" stroke="#3333ff" stroke-width="1.1"/>
<text x="423.5" y="30.3" font-size="12.6" text-anchor="start" font-weight="bold" fill="#000" stroke="#000" stroke-width="0.2" transform="rotate(6.3 423.5 30.3)">Deceleration</text>
<text x="430.9" y="50.8" font-size="12.6" text-anchor="start" font-weight="bold" fill="#000" stroke="#000" stroke-width="0.2" transform="rotate(6.3 430.9 50.8)">Acceleration</text>
<text x="342.3" y="122.7" font-size="8.4" text-anchor="middle" font-weight="bold" fill="#222" stroke="#222" stroke-width="0.2">Flat ΛCDM</text>
<text x="349.8" y="144.9" font-size="8.4" text-anchor="middle" font-weight="bold" fill="#222" stroke="#222" stroke-width="0.2">line</text>
<path d="M566,7 C566.2,8 566,8.8 567.1,13 C568.2,17.2 570.8,25.3 572.7,32 C574.6,38.7 575.3,42.8 578.3,53 C581.3,63.2 586.2,79.7 590.6,93 C595,106.3 599.9,119.7 604.8,133 C609.7,146.3 614.9,159.2 619.8,173 C624.7,186.8 631.6,207.7 634.3,215.9 C637,224.1 635.7,221 636,222" fill="none" stroke="#ff6470" stroke-width="1.6" clip-path="url(#c3)" stroke-linejoin="round"/>
<path d="M637.5,7 C638,8 636.4,5.3 640.3,13 C644.2,20.7 656.1,43.7 661,53 C665.9,62.3 665.9,61.7 669.9,68.7 C673.9,75.7 679.9,86.5 684.9,95 C689.9,103.5 695.8,113.3 699.8,120 C703.8,126.7 705.3,129.8 708.7,135 C712.1,140.2 716,144.2 720,150.9 C724,157.6 729.5,168.1 732.6,175 C735.7,181.9 737.5,187.8 738.6,192.1 C739.7,196.4 739.8,196.6 739.4,200.6 C739,204.6 736.8,212.4 736,216 C735.2,219.6 734.8,221 734.5,222" fill="none" stroke="#ff6470" stroke-width="1.6" clip-path="url(#c3)" stroke-linejoin="round"/>
<path d="M652,222 C651.6,221 652.4,224.1 649.5,215.9 C646.6,207.7 639.7,186.8 634.9,173 C630.1,159.2 624.8,146.3 620.6,133 C616.4,119.7 612.4,103.7 609.6,93 C606.9,82.3 605.4,75.6 604.1,68.9 C602.9,62.2 602.4,57 602.1,53 C601.8,49 601.9,47.7 602.1,44.7 C602.3,41.7 602.6,37.5 603.2,35.2 C603.9,32.9 604.5,31.2 606,30.9 C607.5,30.6 610.1,31.7 612.4,33.6 C614.7,35.5 617.5,39.2 620,42.4 C622.5,45.6 620.8,44.2 627.1,53 C633.4,61.8 649.9,83.8 657.9,95 C665.9,106.2 670.4,113.3 675.2,120 C680.1,126.7 682.9,129.3 687,135 C691.1,140.7 695.5,147.3 699.7,154 C703.9,160.7 709,168.7 712.4,175 C715.8,181.3 718.4,187.8 719.8,192.1 C721.2,196.4 721.2,196.6 720.6,200.6 C720,204.6 717.4,212.4 716.4,216 C715.4,219.6 714.8,221 714.5,222" fill="none" stroke="#ff6470" stroke-width="1.6" clip-path="url(#c3)" stroke-linejoin="round"/>
<path d="M667,222 C666.5,221 665.5,218.8 663.8,216 C662.1,213.2 658.7,209.6 656.6,205.1 C654.5,200.6 652.6,194.3 651.3,189 C650,183.7 649.3,177.8 648.6,173 C647.9,168.2 647.5,163.5 647.3,160 C647.1,156.5 647.3,154.9 647.6,152 C647.9,149.1 648,144.6 649.2,142.5 C650.4,140.4 653,139.6 654.8,139.3 C656.6,139 657.5,139.1 660,140.5 C662.5,141.9 666.1,144.6 669.5,147.7 C672.9,150.8 676.6,154.2 680.6,158.8 C684.6,163.4 689.9,170 693.3,175 C696.7,180 699.3,184.7 701,188.7 C702.7,192.7 703.5,195.8 703.6,198.9 C703.8,202 703.5,204.6 701.9,207.4 C700.3,210.2 696.2,213.6 694.2,216 C692.2,218.4 690.7,221 690,222" fill="none" stroke="#ff6470" stroke-width="1.6" clip-path="url(#c3)" stroke-linejoin="round"/>
<path d="M624,222 C623.9,221 624,219.7 623.6,216 C623.2,212.3 621.9,205.1 621.8,199.8 C621.6,194.5 621.8,188.3 622.7,184 C623.7,179.7 624.7,176.7 627.5,174 C630.3,171.3 635.6,168.4 639.7,167.8 C643.9,167.2 647,168.2 652.4,170.3 C657.8,172.4 665.9,176.2 672,180.1 C678.1,184 684.3,189.5 689.1,193.8 C693.9,198.1 697.9,202 701,205.7 C704.1,209.4 706.3,213.3 707.8,216 C709.3,218.7 709.6,221 710,222" fill="none" stroke="#5858ff" stroke-width="1.5" stroke-dasharray="2 1.6 4 1.6" clip-path="url(#c3)" stroke-linejoin="round"/>
<path d="M632.5,222 C632.6,221 632.9,219.4 633.4,216 C633.9,212.6 633.7,205.5 635.2,201.6 C636.7,197.7 639.9,194.5 642.4,192.6 C644.9,190.7 647.1,190.4 650.4,190.3 C653.7,190.2 658.4,190.8 662,191.8 C665.6,192.8 668.6,194.6 672,196.3 C675.4,198.1 679.4,200.2 682.2,202.3 C685.1,204.4 687.2,206.8 689.1,209.1 C691,211.4 692.3,213.8 693.3,216 C694.3,218.2 694.7,221 695,222" fill="none" stroke="#5858ff" stroke-width="1.5" stroke-dasharray="2 1.6 4 1.6" clip-path="url(#c3)" stroke-linejoin="round"/>
<path d="M642,222 C642.4,221 643.1,218.2 644.1,216 C645.1,213.8 645.6,210.4 647.7,208.7 C649.8,206.9 653.6,205.9 656.6,205.5 C659.6,205.1 663,205.4 665.6,206 C668.2,206.6 669.8,207.7 672,209.1 C674.2,210.5 677.4,213 678.8,214.2 C680.2,215.3 680,214.7 680.5,216 C681,217.3 681.8,221 682,222" fill="none" stroke="#5858ff" stroke-width="1.5" stroke-dasharray="2 1.6 4 1.6" clip-path="url(#c3)" stroke-linejoin="round"/>
<circle cx="678.7" cy="197.6" r="2.9" fill="#f00"/>
<line x1="682" y1="12.5" x2="748.5" y2="82.5" stroke="#555" stroke-width="1.3" stroke-dasharray="1.8 1.5" clip-path="url(#c3)"/>
<text x="689.5" y="18" font-size="12" text-anchor="start" font-weight="bold" fill="#000" stroke="#000" stroke-width="0.2" transform="rotate(46.5 689.5 18)">Deceleration</text>
<text x="688" y="40" font-size="12" text-anchor="start" font-weight="bold" fill="#000" stroke="#000" stroke-width="0.2" transform="rotate(46.5 688 40)">Acceleration</text>
<text x="132.6" y="249.5" font-size="13" font-style="italic" font-weight="bold" fill="#6a6a6a">Ω<tspan font-size="9" dy="2.6">m0</tspan></text>
<text x="396" y="248.7" font-size="13" font-style="italic" font-weight="bold" fill="#6a6a6a">Ω<tspan font-size="9" dy="2.6">m0</tspan></text>
<text x="635" y="249.3" font-size="13" font-style="italic" font-weight="bold" fill="#6a6a6a">Ω<tspan font-size="9" dy="2.6">m0</tspan></text>
<text transform="translate(9.3,116.3) rotate(-90)" font-size="13" font-style="italic" font-weight="bold" fill="#6a6a6a">Ω<tspan font-size="9" dy="2.2">Λ</tspan></text>
<text transform="translate(268.6,124.2) rotate(-90) scale(1.22,0.86)" font-size="14.5" font-style="italic" font-weight="bold" fill="#6a6a6a">ω<tspan font-size="10" dy="1.6">χ</tspan></text>
<text transform="translate(528.8,119.4) rotate(-90)" font-size="14" font-style="italic" font-weight="bold" fill="#6a6a6a">α</text>
</svg>
</body></html>
